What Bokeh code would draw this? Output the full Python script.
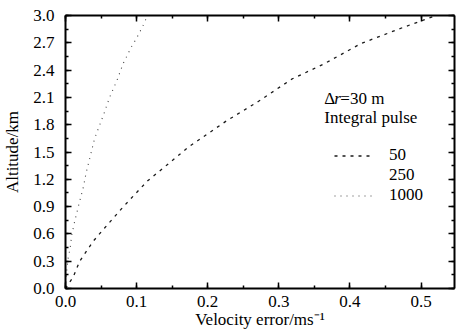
from bokeh.plotting import figure
from bokeh.models import (LinearAxis, SingleIntervalTicker, PrintfTickFormatter,
                          Range1d, Legend, LegendItem, Label)
from bokeh.embed import file_html
from bokeh.resources import INLINE

# ---- data ----
alt_50 = [0, 0.13, 0.30, 0.52, 0.665, 0.87, 1.03, 1.18, 1.36, 1.555, 1.84, 2.06, 2.30, 2.47, 2.69, 2.87, 3.0]
err_50 = [0, 0.011, 0.020, 0.039, 0.055, 0.078, 0.097, 0.115, 0.143, 0.173, 0.226, 0.272, 0.318, 0.364, 0.415, 0.475, 0.521]

alt_1000 = [0, 0.22, 0.35, 0.44, 0.59, 0.74, 0.93, 1.11, 1.27, 1.46, 1.65, 1.92, 2.10, 2.28, 2.47, 2.66, 2.75, 2.92, 3.0]
err_1000 = [0, 0.002, 0.004, 0.0065, 0.0088, 0.013, 0.019, 0.025, 0.029, 0.035, 0.041, 0.054, 0.062, 0.072, 0.081, 0.093, 0.100, 0.111, 0.115]

series_labels = ["50", "250", "1000"]
x_ticks_interval = 0.1
y_ticks_interval = 0.3

FONT = "Liberation Serif"

p = figure(width=456, height=347, output_backend="svg", toolbar_location=None,
           x_range=Range1d(0, 0.547), y_range=Range1d(0, 3.0),
           min_border_left=58, min_border_right=2, min_border_top=15, min_border_bottom=59,
           x_axis_label="Velocity error/ms\u207b\u00b9", y_axis_label="Altitude/km")
p.grid.visible = False
p.outline_line_color = None
p.background_fill_color = "white"
p.border_fill_color = "white"

r50 = p.line(err_50, alt_50, line_color="#1a1a1a", line_width=1.3, line_dash="3 5")
r250 = p.line(x=[], y=[], line_color="#1a1a1a", line_alpha=0)
r1000 = p.line(err_1000, alt_1000, line_color="#444444", line_width=1.1, line_dash="1 5")

def style_axis(ax, labels=True):
    ax.axis_line_width = 2
    ax.axis_line_color = "black"
    ax.major_tick_in = 6
    ax.major_tick_out = 0
    ax.minor_tick_in = 3
    ax.minor_tick_out = 0
    ax.major_tick_line_width = 1.5
    ax.minor_tick_line_width = 1.5
    ax.major_tick_line_color = "black"
    ax.minor_tick_line_color = "black"
    ax.major_label_text_font = FONT
    ax.major_label_text_font_size = "17px"
    ax.major_label_text_color = "black"
    ax.axis_label_text_font = FONT
    ax.axis_label_text_font_size = "17px"
    ax.axis_label_text_font_style = "normal"
    ax.axis_label_text_color = "black"
    if not labels:
        ax.major_label_text_alpha = 0
        ax.major_label_text_font_size = "1px"

p.xaxis.ticker = SingleIntervalTicker(interval=x_ticks_interval, num_minor_ticks=2)
p.yaxis.ticker = SingleIntervalTicker(interval=y_ticks_interval, num_minor_ticks=2)
p.xaxis.formatter = PrintfTickFormatter(format="%.1f")
p.yaxis.formatter = PrintfTickFormatter(format="%.1f")
for ax in p.xaxis + p.yaxis:
    style_axis(ax)
p.yaxis.major_label_standoff = 11
p.xaxis.major_label_standoff = 7
p.xaxis.axis_label_standoff = 0
p.yaxis.axis_label_standoff = 8

top = LinearAxis(ticker=SingleIntervalTicker(interval=x_ticks_interval, num_minor_ticks=2))
style_axis(top, labels=False)
p.add_layout(top, "above")
right = LinearAxis(ticker=SingleIntervalTicker(interval=y_ticks_interval, num_minor_ticks=2))
style_axis(right, labels=False)
p.add_layout(right, "right")

# legend title lines
lx = 0.364
p.add_layout(Label(x=lx, y=2.09, text="\u0394", text_font=FONT, text_font_size="17px",
                   text_baseline="middle", text_color="black"))
p.add_layout(Label(x=lx, y=2.09, x_offset=10, text="r", text_font=FONT, text_font_size="17px",
                   text_font_style="italic", text_baseline="middle", text_color="black"))
p.add_layout(Label(x=lx, y=2.09, x_offset=16, text="=30 m", text_font=FONT, text_font_size="17px",
                   text_baseline="middle", text_color="black"))
p.add_layout(Label(x=lx, y=1.88, text="Integral pulse", text_font=FONT, text_font_size="17px",
                   text_baseline="middle", text_color="black"))

legend = Legend(items=[LegendItem(label=series_labels[0], renderers=[r50]),
                       LegendItem(label=series_labels[1], renderers=[r250]),
                       LegendItem(label=series_labels[2], renderers=[r1000])],
                location=(269, 83))
legend.border_line_color = None
legend.background_fill_alpha = 0
legend.padding = 0
legend.margin = 0
legend.spacing = 0
legend.glyph_width = 38
legend.glyph_height = 15
legend.label_height = 15
legend.label_standoff = 17
legend.label_text_font = FONT
legend.label_text_font_size = "17px"
legend.label_text_line_height = 0.9
legend.label_text_color = "black"
p.add_layout(legend, "center")

open("out.html", "w").write(file_html(p, INLINE))
